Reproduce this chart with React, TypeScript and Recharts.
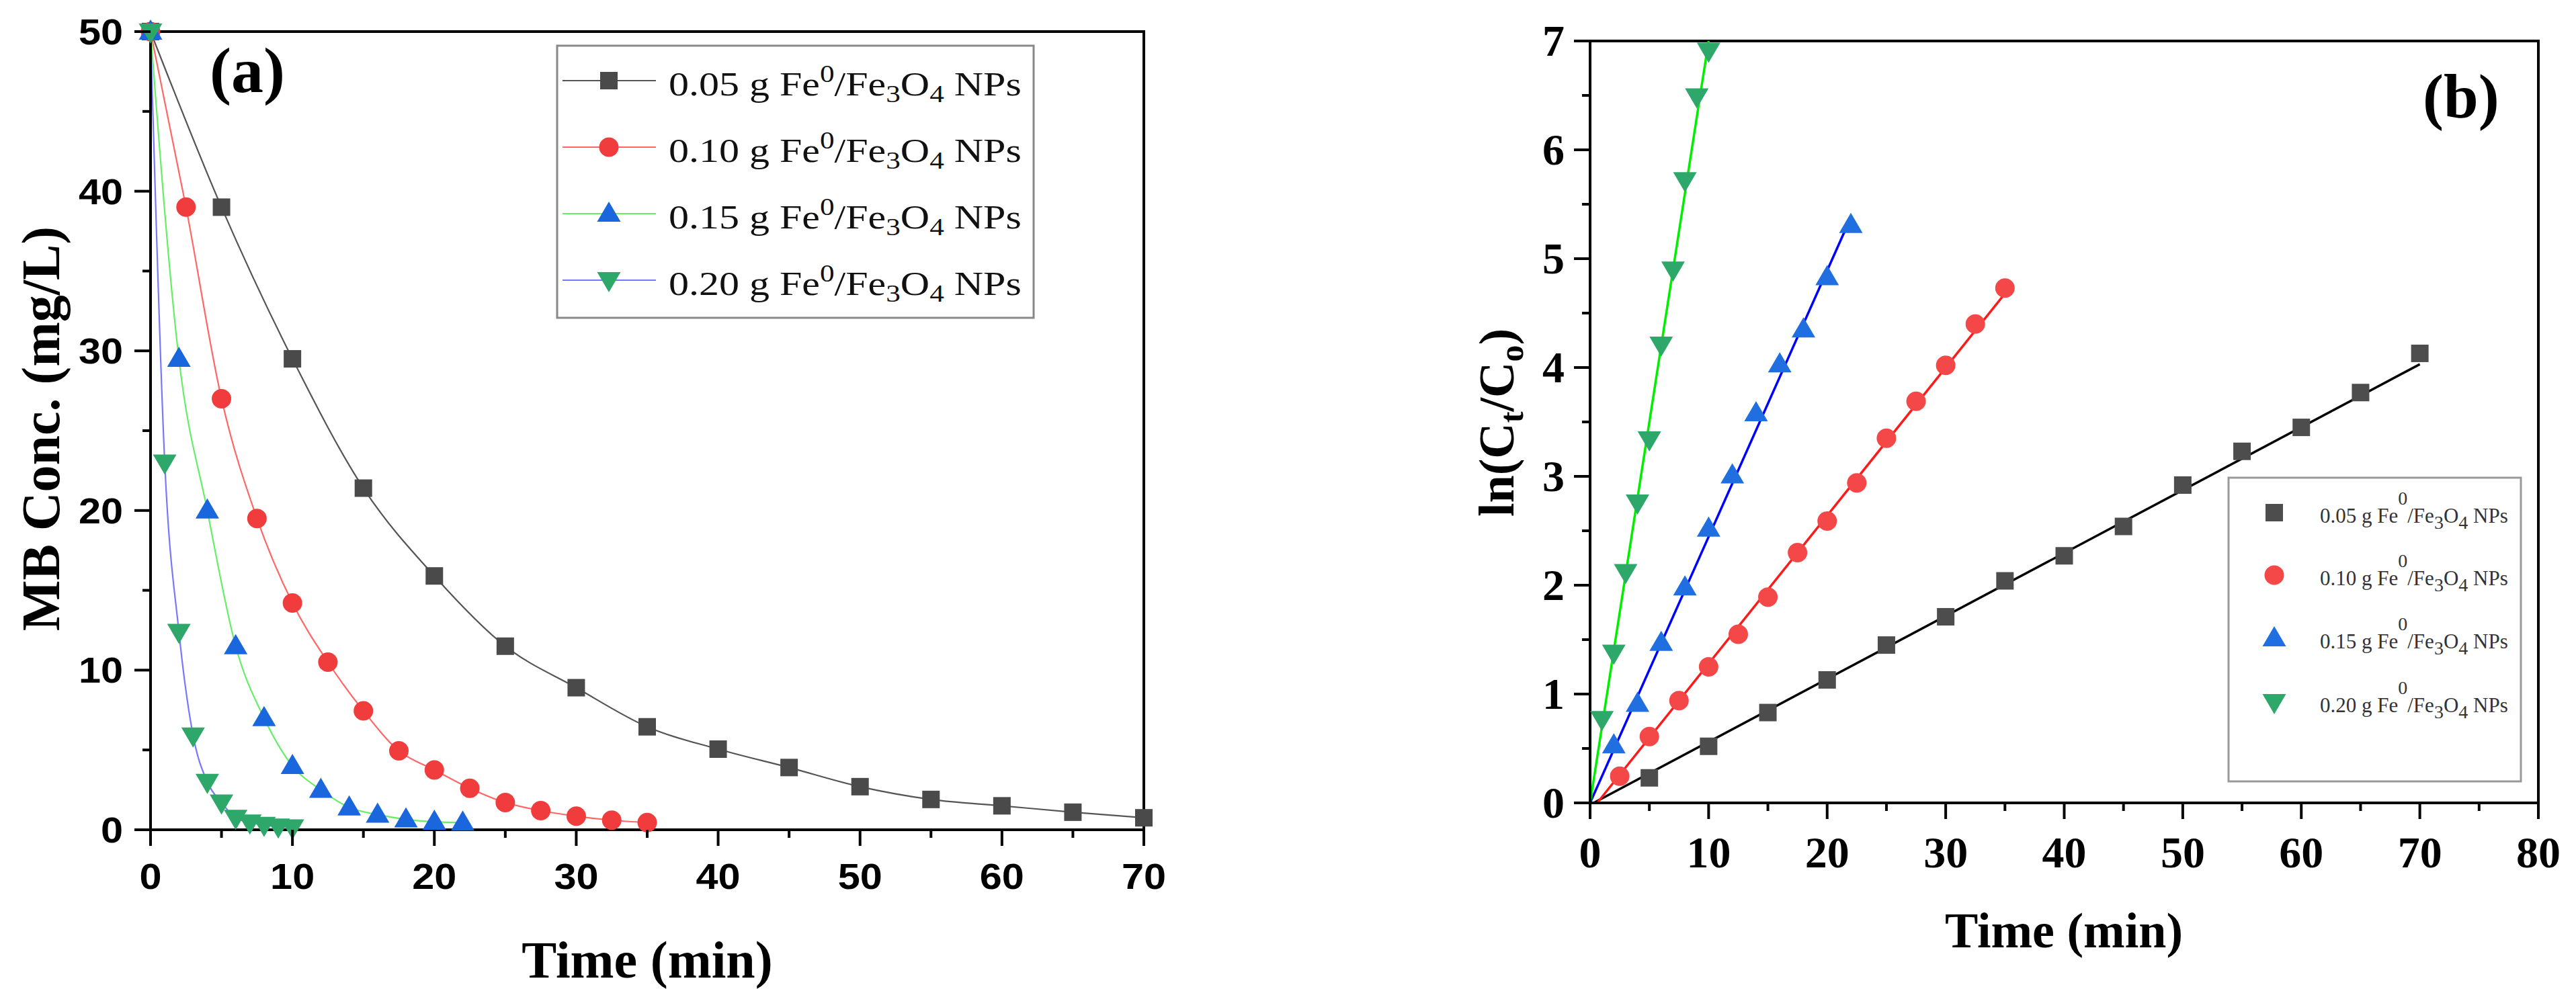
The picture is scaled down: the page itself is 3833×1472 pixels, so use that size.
import React from 'react'
import { LineChart, ComposedChart, Line, Scatter, XAxis, YAxis, ReferenceArea } from 'recharts'

// ---------- panel (a): MB concentration vs time ----------
const tA005 = [0, 5, 10, 15, 20, 25, 30, 35, 40, 45, 50, 55, 60, 65, 70]
const cA005 = [50, 39, 29.5, 21.4, 15.9, 11.5, 8.9, 6.45, 5.05, 3.9, 2.7, 1.9, 1.5, 1.1, 0.75]
const tA010 = [0, 2.5, 5, 7.5, 10, 12.5, 15, 17.5, 20, 22.5, 25, 27.5, 30, 32.5, 35]
const cA010 = [50, 39, 27, 19.5, 14.2, 10.5, 7.45, 4.95, 3.75, 2.6, 1.7, 1.2, 0.85, 0.6, 0.45]
const tA015 = [0, 2, 4, 6, 8, 10, 12, 14, 16, 18, 20, 22]
const cA015 = [50, 29.5, 20, 11.5, 7.0, 4.0, 2.5, 1.4, 0.95, 0.65, 0.5, 0.45]
const tA020 = [0, 1, 2, 3, 4, 5, 6, 7, 8, 9, 10]
const cA020 = [50, 23, 12.4, 5.9, 3.0, 1.7, 0.75, 0.45, 0.3, 0.2, 0.15]

const ticksAx = [0, 5, 10, 15, 20, 25, 30, 35, 40, 45, 50, 55, 60, 65, 70]
const ticksAy = [0, 5, 10, 15, 20, 25, 30, 35, 40, 45, 50]

// ---------- panel (b): ln(Ct/Co) vs time ----------
const tB005 = [5, 10, 15, 20, 25, 30, 35, 40, 45, 50, 55, 60, 65, 70]
const kB005 = [0.23, 0.52, 0.83, 1.13, 1.45, 1.71, 2.04, 2.27, 2.54, 2.92, 3.23, 3.45, 3.77, 4.13]
const tB010 = [2.5, 5, 7.5, 10, 12.5, 15, 17.5, 20, 22.5, 25, 27.5, 30, 32.5, 35]
const kB010 = [0.245, 0.61, 0.94, 1.25, 1.55, 1.89, 2.3, 2.59, 2.94, 3.35, 3.69, 4.02, 4.4, 4.73]
const tB015 = [2, 4, 6, 8, 10, 12, 14, 16, 18, 20, 22]
const kB015 = [0.53, 0.91, 1.47, 1.98, 2.52, 3.01, 3.58, 4.03, 4.35, 4.83, 5.31]
const tB020 = [1, 2, 3, 4, 5, 6, 7, 8, 9, 10]
const kB020 = [0.77, 1.38, 2.12, 2.76, 3.34, 4.21, 4.9, 5.72, 6.49, 6.91]

// linear fit end points
const fitT005 = [0.3, 70]
const fitK005 = [0, 4.03]
const fitT010 = [0.6, 35]
const fitK010 = [0, 4.68]
const fitT015 = [0, 22]
const fitK015 = [0, 5.38]
const fitT020 = [0, 10]
const fitK020 = [0, 7]

const ticksBx = [0, 5, 10, 15, 20, 25, 30, 35, 40, 45, 50, 55, 60, 65, 70, 75, 80]
const ticksBy = [0, 0.5, 1, 1.5, 2, 2.5, 3, 3.5, 4, 4.5, 5, 5.5, 6, 6.5, 7]

const doses = ['0.05', '0.10', '0.15', '0.20']

const SERIF = "'Liberation Serif', 'Times New Roman', serif"
const SANS = "'Liberation Sans', Arial, sans-serif"

const pts = (xs: number[], ys: number[]) => xs.map((x, i) => ({ x, y: ys[i] }))

function Marker({ kind, cx, cy, color }: { kind: string; cx: number; cy: number; color: string }) {
  if (cx == null || cy == null) return null
  switch (kind) {
    case 'square':
      return <rect x={cx - 13} y={cy - 13} width={26} height={26} fill={color} />
    case 'circle':
      return <circle cx={cx} cy={cy} r={14.5} fill={color} />
    case 'up':
      return <polygon points={`${cx},${cy - 18} ${cx - 17.5},${cy + 12} ${cx + 17.5},${cy + 12}`} fill={color} />
    default:
      return <polygon points={`${cx - 17.5},${cy - 12} ${cx + 17.5},${cy - 12} ${cx},${cy + 18}`} fill={color} />
  }
}

const seriesA = [
  { data: pts(tA005, cA005), line: '#555555', color: '#4a4a4a', kind: 'square' },
  { data: pts(tA010, cA010), line: '#ff6666', color: '#f03c3c', kind: 'circle' },
  { data: pts(tA015, cA015), line: '#66ee66', color: '#1a66dd', kind: 'up' },
  { data: pts(tA020, cA020), line: '#7777ff', color: '#2ea86a', kind: 'down' },
]

const seriesB = [
  { data: pts(tB005, kB005), fit: pts(fitT005, fitK005), line: '#000000', color: '#4d4d4d', kind: 'square' },
  { data: pts(tB010, kB010), fit: pts(fitT010, fitK010), line: '#ff1a1a', color: '#f44848', kind: 'circle' },
  { data: pts(tB015, kB015), fit: pts(fitT015, fitK015), line: '#0000ff', color: '#1f6fe0', kind: 'up' },
  { data: pts(tB020, kB020), fit: pts(fitT020, fitK020), line: '#00ee00', color: '#2ea86a', kind: 'down' },
]

// ticks: axis tickSize/tickMargin are 0 so x,y arrive on the axis line
function XTickA({ x, y, payload }: any) {
  const v = payload.value
  const major = v % 10 === 0
  return (
    <g>
      <line x1={x} x2={x} y1={y} y2={y + (major ? 24 : 12)} stroke="#000" strokeWidth={4} />
      {major && (
        <text transform={`translate(${x},${y + 88}) scale(1.1,1)`} textAnchor="middle" fontFamily={SANS} fontWeight="bold" fontSize={54} fill="#000">
          {v}
        </text>
      )}
    </g>
  )
}

function YTickA({ x, y, payload }: any) {
  const v = payload.value
  const major = v % 10 === 0
  return (
    <g>
      <line x1={x - (major ? 24 : 12)} x2={x} y1={y} y2={y} stroke="#000" strokeWidth={4} />
      {major && (
        <text transform={`translate(${x - 41},${y + 19}) scale(1.1,1)`} textAnchor="end" fontFamily={SANS} fontWeight="bold" fontSize={54} fill="#000">
          {v}
        </text>
      )}
    </g>
  )
}

function XTickB({ x, y, payload }: any) {
  const v = payload.value
  const major = v % 10 === 0
  return (
    <g>
      <line x1={x} x2={x} y1={y} y2={y + (major ? 24 : 12)} stroke="#000" strokeWidth={4} />
      {major && (
        <text x={x} y={y + 96} textAnchor="middle" fontFamily={SERIF} fontWeight="bold" fontSize={66} fill="#000">
          {v}
        </text>
      )}
    </g>
  )
}

function YTickB({ x, y, payload }: any) {
  const v = payload.value
  const major = Number.isInteger(v)
  return (
    <g>
      <line x1={x - (major ? 24 : 12)} x2={x} y1={y} y2={y} stroke="#000" strokeWidth={4} />
      {major && (
        <text x={x - 38} y={y + 22} textAnchor="end" fontFamily={SERIF} fontWeight="bold" fontSize={66} fill="#000">
          {v}
        </text>
      )}
    </g>
  )
}

function FeText({ x, y, dose, fs, subFs, supDy, subDy, sx, fill }: any) {
  return (
    <text transform={`translate(${x},${y}) scale(${sx},1)`} fontFamily={SERIF} fontSize={fs} fill={fill}>
      <tspan>{`${dose} g Fe`}</tspan>
      <tspan dy={-supDy} fontSize={subFs}>0</tspan>
      <tspan dy={supDy}>/Fe</tspan>
      <tspan dy={subDy} fontSize={subFs}>3</tspan>
      <tspan dy={-subDy}>O</tspan>
      <tspan dy={subDy} fontSize={subFs}>4</tspan>
      <tspan dy={-subDy}>{' NPs'}</tspan>
    </text>
  )
}

const axisStyle = { stroke: '#000', strokeWidth: 4 }
const AX_H = 120 // room reserved for x tick labels
const AY_W = 150 // room reserved for y tick labels

export default function App() {
  const rowsA = [120, 219, 318, 417]
  const rowsB = [763, 856, 950, 1045]

  return (
    <div style={{ position: 'absolute', left: 0, top: 0, width: 3833, height: 1472, background: '#fff', overflow: 'hidden' }}>
      {/* panel (a) */}
      <div style={{ position: 'absolute', left: 0, top: 0 }}>
        <LineChart width={1900} height={1472} margin={{ top: 47, right: 198, bottom: 237 - AX_H, left: 224 - AY_W }}>
          <XAxis type="number" dataKey="x" domain={[0, 70]} ticks={ticksAx} interval={0} height={AX_H}
            tickSize={0} tickMargin={0} tickLine={false} axisLine={axisStyle} tick={XTickA} />
          <YAxis type="number" dataKey="y" domain={[0, 50]} ticks={ticksAy} interval={0} width={AY_W}
            tickSize={0} tickMargin={0} tickLine={false} axisLine={axisStyle} tick={YTickA} />
          <ReferenceArea x1={0} x2={70} y1={0} y2={50} fill="none" stroke="#000" strokeWidth={4} />
          {seriesA.map((s, i) => (
            <Line key={i} data={s.data} dataKey="y" type="monotone" stroke={s.line} strokeWidth={2.2}
              isAnimationActive={false}
              dot={(p: any) => <Marker key={`a${i}-${p.index}`} kind={s.kind} cx={p.cx} cy={p.cy} color={s.color} />} />
          ))}
        </LineChart>
      </div>

      {/* panel (b) */}
      <div style={{ position: 'absolute', left: 1900, top: 0 }}>
        <ComposedChart width={1933} height={1472} margin={{ top: 61, right: 56, bottom: 277 - AX_H, left: 466 - AY_W }}>
          <XAxis type="number" dataKey="x" domain={[0, 80]} ticks={ticksBx} interval={0} height={AX_H}
            tickSize={0} tickMargin={0} tickLine={false} axisLine={axisStyle} tick={XTickB} />
          <YAxis type="number" dataKey="y" domain={[0, 7]} ticks={ticksBy} interval={0} width={AY_W}
            tickSize={0} tickMargin={0} tickLine={false} axisLine={axisStyle} tick={YTickB} />
          <ReferenceArea x1={0} x2={80} y1={0} y2={7} fill="none" stroke="#000" strokeWidth={4} />
          {seriesB.map((s, i) => (
            <Scatter key={`s${i}`} data={s.data} isAnimationActive={false}
              shape={(p: any) => <Marker kind={s.kind} cx={p.cx} cy={p.cy} color={s.color} />} />
          ))}
          {seriesB.map((s, i) => (
            <Line key={`f${i}`} data={s.fit} dataKey="y" type="linear" stroke={s.line} strokeWidth={3.5}
              dot={false} isAnimationActive={false} />
          ))}
        </ComposedChart>
      </div>

      {/* titles, panel letters and legends */}
      <svg width={3833} height={1472} style={{ position: 'absolute', left: 0, top: 0, pointerEvents: 'none' }}>
        <text x={312} y={137} fontFamily={SERIF} fontWeight="bold" fontSize={96}>(a)</text>
        <text x={3605} y={175} fontFamily={SERIF} fontWeight="bold" fontSize={93}>(b)</text>

        <text x={963} y={1455} textAnchor="middle" fontFamily={SERIF} fontWeight="bold" fontSize={78}>Time (min)</text>
        <text transform="translate(88,638) rotate(-90)" textAnchor="middle" fontFamily={SERIF} fontWeight="bold" fontSize={80}>
          MB Conc. (mg/L)
        </text>

        <text x={3071} y={1410} textAnchor="middle" fontFamily={SERIF} fontWeight="bold" fontSize={74}>Time (min)</text>
        <text transform="translate(2252,629) rotate(-90)" textAnchor="middle" fontFamily={SERIF} fontWeight="bold" fontSize={74}>
          <tspan>ln(C</tspan>
          <tspan dy={14} fontSize={50}>t</tspan>
          <tspan dy={-14}>/C</tspan>
          <tspan dy={14} fontSize={50}>o</tspan>
          <tspan dy={-14}>)</tspan>
        </text>

        {/* legend (a) */}
        <rect x={829} y={68} width={709} height={405} fill="#fff" stroke="#888" strokeWidth={3} />
        {seriesA.map((s, i) => (
          <g key={`la${i}`}>
            <line x1={837} x2={976} y1={rowsA[i]} y2={rowsA[i]} stroke={s.line} strokeWidth={2.2} />
            <Marker kind={s.kind} cx={906} cy={rowsA[i]} color={s.color} />
            <FeText x={995} y={rowsA[i] + 22} dose={doses[i]} fs={50} subFs={36} supDy={20} subDy={10} sx={1.2} fill="#111" />
          </g>
        ))}

        {/* legend (b) */}
        <rect x={3316} y={711} width={435} height={452} fill="#fff" stroke="#999" strokeWidth={3} />
        {seriesB.map((s, i) => (
          <g key={`lb${i}`}>
            <Marker kind={s.kind} cx={3384} cy={rowsB[i]} color={s.color} />
            <FeText x={3452} y={rowsB[i] + 15} dose={doses[i]} fs={31} subFs={28} supDy={27} subDy={9} sx={1} fill="#333" />
          </g>
        ))}
      </svg>
    </div>
  )
}
